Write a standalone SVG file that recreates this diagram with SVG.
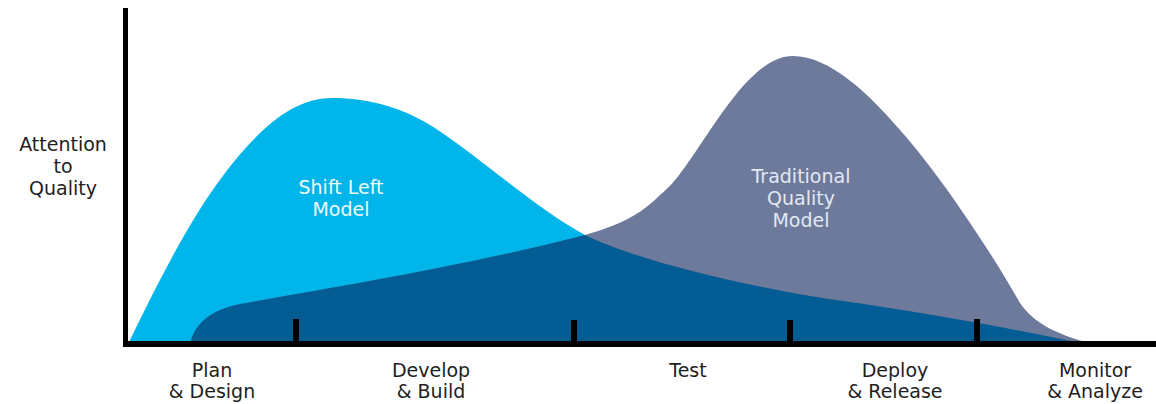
<svg xmlns="http://www.w3.org/2000/svg" width="1156" height="404" viewBox="0 0 1156 404">
<style>
.lbl{font-family:"DejaVu Sans","Liberation Sans",sans-serif;font-size:19px;fill:#1e1e1e;text-anchor:middle}
.in1{font-family:"DejaVu Sans","Liberation Sans",sans-serif;font-size:19px;fill:#eef9fd;text-anchor:middle}
.in2{font-family:"DejaVu Sans","Liberation Sans",sans-serif;font-size:19px;fill:#e2e8f2;text-anchor:middle}
.tick{fill:#000}
</style>
<defs>
<path id="blueShape" d="M128,344 C150,300 185,225 225,173 C255,134 290,98 332,98 C370,98 400,108 425,122 C470,148 530,205 585,235 C640,262 760,290 850,302 C920,312 1010,328 1085,344 Z"/>
<path id="grayShape" d="M190,344 C195,322 212,310 240,304 C330,288 470,265 585,235 C620,225 640,215 660,195 C695,170 740,56 793,56 C830,56 870,95 900,130 C940,175 990,250 1020,303 C1035,325 1060,335 1092,344 Z"/>
<clipPath id="grayClip"><use href="#grayShape"/></clipPath>
</defs>
<rect width="1156" height="404" fill="#ffffff"/>
<g id="shift-left-curve"><use href="#blueShape" fill="#00b5ea"/></g>
<g id="traditional-curve"><use href="#grayShape" fill="#6d7a9b"/></g>
<g id="overlap"><use href="#blueShape" fill="#035c93" clip-path="url(#grayClip)"/></g>
<g id="axes">
<rect x="123" y="8" width="5" height="339" fill="#000"/>
<rect x="123" y="341" width="1033" height="6" fill="#000"/>
<rect class="tick" x="293" y="319" width="6" height="25"/>
<rect class="tick" x="571" y="320" width="6" height="24"/>
<rect class="tick" x="787" y="320" width="6" height="24"/>
<rect class="tick" x="974" y="319" width="6" height="25"/>
</g>
<g id="y-label"><text class="lbl" x="63" y="151">Attention</text><text class="lbl" x="63" y="173">to</text><text class="lbl" x="63" y="195">Quality</text></g>
<g id="shift-left-label"><text class="in1" x="341" y="194">Shift Left</text><text class="in1" x="341" y="216">Model</text></g>
<g id="traditional-label"><text class="in2" x="801" y="183">Traditional</text><text class="in2" x="801" y="205">Quality</text><text class="in2" x="801" y="227">Model</text></g>
<g id="phase-plan"><text class="lbl" x="212" y="377">Plan</text><text class="lbl" x="212" y="398">&amp; Design</text></g>
<g id="phase-develop"><text class="lbl" x="431" y="377">Develop</text><text class="lbl" x="431" y="398">&amp; Build</text></g>
<g id="phase-test"><text class="lbl" x="688" y="377">Test</text></g>
<g id="phase-deploy"><text class="lbl" x="895" y="377">Deploy</text><text class="lbl" x="895" y="398">&amp; Release</text></g>
<g id="phase-monitor"><text class="lbl" x="1095" y="377">Monitor</text><text class="lbl" x="1095" y="398">&amp; Analyze</text></g>
</svg>
